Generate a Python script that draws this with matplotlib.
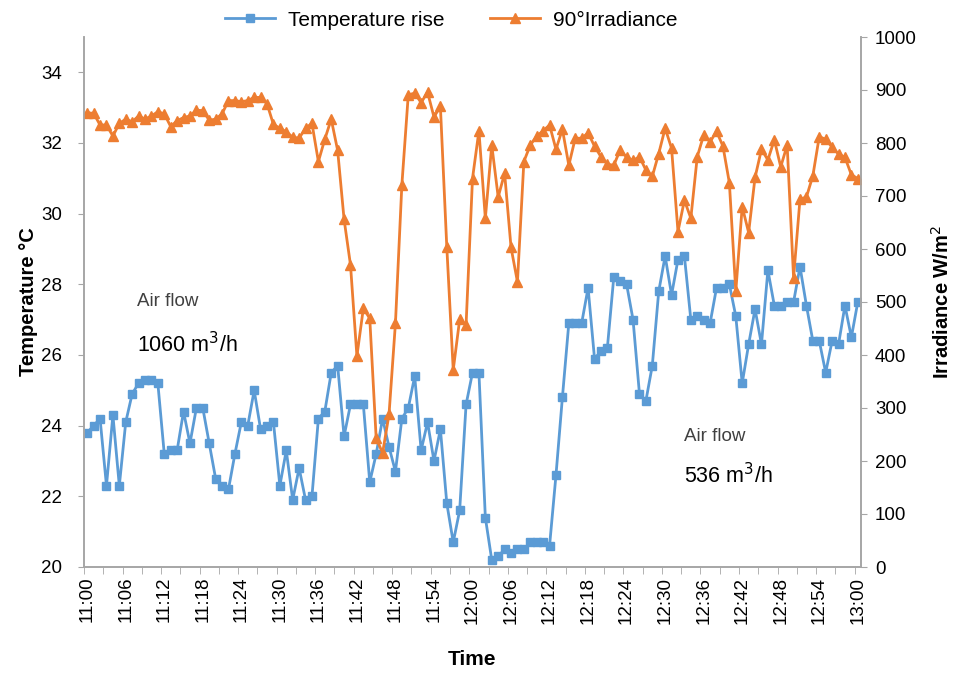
import numpy as np
import matplotlib
matplotlib.use("Agg")
import matplotlib.pyplot as plt
from matplotlib.ticker import FixedLocator

plt.rcParams['font.family'] = ['Liberation Sans', 'DejaVu Sans']

# one reading per minute, 11:00 .. 13:00
times = [f"{11 + m // 60}:{m % 60:02d}" for m in range(121)]

temp_rise = [
    23.8, 24.0, 24.2, 22.3, 24.3, 22.3, 24.1, 24.9, 25.2, 25.3,
    25.3, 25.2, 23.2, 23.3, 23.3, 24.4, 23.5, 24.5, 24.5, 23.5,
    22.5, 22.3, 22.2, 23.2, 24.1, 24.0, 25.0, 23.9, 24.0, 24.1,
    22.3, 23.3, 21.9, 22.8, 21.9, 22.0, 24.2, 24.4, 25.5, 25.7,
    23.7, 24.6, 24.6, 24.6, 22.4, 23.2, 24.2, 23.4, 22.7, 24.2,
    24.5, 25.4, 23.3, 24.1, 23.0, 23.9, 21.8, 20.7, 21.6, 24.6,
    25.5, 25.5, 21.4, 20.2, 20.3, 20.5, 20.4, 20.5, 20.5, 20.7,
    20.7, 20.7, 20.6, 22.6, 24.8, 26.9, 26.9, 26.9, 27.9, 25.9,
    26.1, 26.2, 28.2, 28.1, 28.0, 27.0, 24.9, 24.7, 25.7, 27.8,
    28.8, 27.7, 28.7, 28.8, 27.0, 27.1, 27.0, 26.9, 27.9, 27.9,
    28.0, 27.1, 25.2, 26.3, 27.3, 26.3, 28.4, 27.4, 27.4, 27.5,
    27.5, 28.5, 27.4, 26.4, 26.4, 25.5, 26.4, 26.3, 27.4, 26.5,
    27.5,
]

irradiance = [
    857, 856, 834, 834, 813, 837, 845, 840, 851, 845,
    851, 859, 855, 831, 842, 848, 851, 862, 861, 843,
    845, 855, 880, 880, 878, 880, 886, 886, 874, 835,
    828, 821, 811, 809, 828, 837, 765, 807, 845, 786,
    656, 570, 398, 488, 469, 243, 215, 288, 460, 721,
    891, 894, 876, 896, 849, 869, 603, 372, 467, 457,
    733, 823, 658, 796, 698, 743, 603, 538, 765, 796,
    813, 823, 834, 788, 826, 758, 809, 809, 819, 794,
    774, 760, 758, 787, 773, 767, 774, 749, 737, 780,
    828, 790, 633, 692, 658, 774, 815, 802, 822, 794,
    725, 520, 680, 631, 735, 788, 768, 806, 755, 796,
    546, 694, 698, 738, 812, 807, 792, 779, 773, 740,
    733,
]

blue = '#5B9BD5'
orange = '#ED7D31'
axis_grey = '#A6A6A6'

fig = plt.figure(figsize=(9.6, 6.73), dpi=100)
ax = fig.add_axes([84 / 960, 1 - 567 / 673, (861 - 84) / 960, (567 - 37) / 673])
ax2 = ax.twinx()

x = np.arange(len(times))
l1, = ax.plot(x, temp_rise, '-s', color=blue, lw=2.0, ms=6, label='Temperature rise')
l2, = ax2.plot(x, irradiance, '-^', color=orange, lw=2.0, ms=6.5, label='90°Irradiance')

ax.set_xlim(-0.5, len(times) - 0.5)
ax.set_ylim(20, 35)
ax.set_yticks(np.arange(20, 35, 2))
ax2.set_ylim(0, 1000)
ax2.set_yticks(np.arange(0, 1001, 100))

# labels every 6 min, tick marks between categories every 3 min
ax.xaxis.set_major_locator(FixedLocator(x[::6]))
ax.set_xticklabels(times[::6], rotation=90)
ax.xaxis.set_minor_locator(FixedLocator(np.arange(-0.5, len(times) - 0.4, 3)))
ax.tick_params(axis='x', which='major', length=0, pad=7, labelsize=13.5)
ax.tick_params(axis='x', which='minor', length=5, color=axis_grey, direction='out')
ax.tick_params(axis='y', length=4, pad=12, color=axis_grey, labelsize=13.5)
ax2.tick_params(axis='y', length=4, pad=6, color=axis_grey, labelsize=13.5)

for a in (ax, ax2):
    a.spines['top'].set_visible(False)
    for s in ('left', 'right', 'bottom'):
        a.spines[s].set_color(axis_grey)
        a.spines[s].set_linewidth(1.2)

ax.set_xlabel('Time', fontsize=15, fontweight='bold', labelpad=19)
ax.set_ylabel('Temperature °C', fontsize=14.5, fontweight='bold', labelpad=2)
ax2.set_ylabel('Irradiance W/m$^2$', fontsize=14.5, fontweight='bold', labelpad=10)

ax.text(0.068, 0.50, 'Air flow', transform=ax.transAxes, fontsize=13.5, color='#404040', va='center')
ax.text(0.068, 0.42, '1060 m$^3$/h', transform=ax.transAxes, fontsize=15.5, color='black', va='center')
ax.text(0.772, 0.246, 'Air flow', transform=ax.transAxes, fontsize=13.5, color='#404040', va='center')
ax.text(0.772, 0.172, '536 m$^3$/h', transform=ax.transAxes, fontsize=15.5, color='black', va='center')

fig.legend(handles=[l1, l2], loc='upper center', bbox_to_anchor=(0.47, 1.012), ncol=2,
           frameon=False, fontsize=15, handlelength=2.4, handletextpad=0.6, columnspacing=2.2)

fig.savefig('out.png', dpi=100)
